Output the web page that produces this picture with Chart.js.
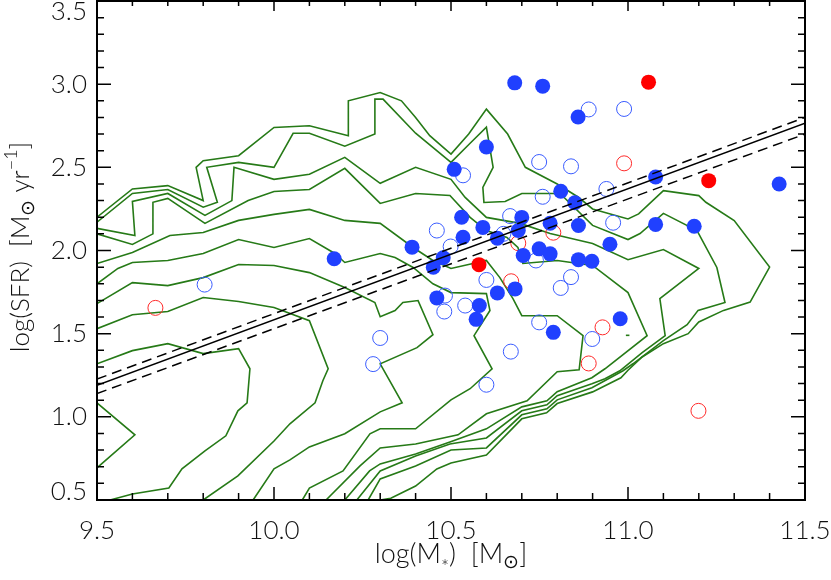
<!DOCTYPE html>
<html lang="en">
<head>
<meta charset="UTF-8">
<title>log(SFR) vs log(M*)</title>
<script src="https://cdn.jsdelivr.net/npm/chart.js@4.4.1/dist/chart.umd.min.js"></script>
<style>
  html, body { margin: 0; padding: 0; background: #fff; }
  #wrap { width: 831px; height: 580px; }
</style>
</head>
<body>
<div id="wrap"><canvas id="sfrChart" width="831" height="580"></canvas></div>

<script>
// axis ticks (major); minor ticks are 5 per interval
const xTicks = [9.5, 10.0, 10.5, 11.0, 11.5];
const yTicks = [0.5, 1.0, 1.5, 2.0, 2.5, 3.0, 3.5];

// galaxies: [log M*, log SFR]
const blueFilled = [
  [10.17, 1.95], [10.39, 2.02], [10.45, 1.90], [10.46, 1.715], [10.478, 1.956],
  [10.509, 2.488], [10.53, 2.20], [10.534, 2.08], [10.59, 2.139], [10.60, 2.622],
  [10.631, 2.074], [10.631, 1.745], [10.681, 1.769], [10.58, 1.669], [10.571, 1.586],
  [10.68, 3.008], [10.759, 2.988], [10.859, 2.803], [10.81, 2.356], [10.85, 2.287],
  [10.70, 2.199], [10.69, 2.12], [10.78, 2.164], [10.86, 2.15], [11.078, 2.157],
  [11.187, 2.146], [11.078, 2.442], [11.427, 2.40], [10.949, 2.038], [10.749, 2.01],
  [10.78, 1.98], [10.704, 1.97], [10.86, 1.945], [10.898, 1.935], [10.789, 1.508],
  [10.978, 1.59]
];
const blueOpen = [
  [9.804, 1.795], [10.30, 1.474], [10.28, 1.317], [10.46, 2.12], [10.499, 2.024],
  [10.534, 2.452], [10.483, 1.729], [10.54, 1.669], [10.481, 1.633], [10.60, 1.823],
  [10.648, 2.10], [10.667, 2.207], [10.749, 2.532], [10.839, 2.506], [10.889, 2.848],
  [10.989, 2.851], [10.939, 2.37], [10.759, 2.323], [10.958, 2.167], [10.839, 1.84],
  [10.81, 1.775], [10.749, 1.568], [10.669, 1.392], [10.60, 1.193], [10.899, 1.468],
  [10.74, 1.94]
];
const redFilled = [[10.579, 1.915], [11.058, 3.012], [11.228, 2.42]];
const redOpen = [
  [9.665, 1.655], [10.989, 2.524], [10.69, 2.044], [10.789, 2.107],
  [10.67, 1.815], [10.928, 1.538], [10.889, 1.321], [11.199, 1.036]
];

// fit and its band
const fitX = [9.5, 11.5];
const fitY = [1.19, 2.765];
const fitUpper = [1.227, 2.80];
const fitLower = [1.14, 2.70];

// density contours of the comparison sample, outermost first
const contour1 = [
  [9.5, 2.20], [9.6, 2.37], [9.7, 2.39], [9.8, 2.30], [9.78, 2.50], [9.8, 2.54], [9.9, 2.57],
  [10.0, 2.74], [10.1, 2.75], [10.21, 2.69], [10.21, 2.90], [10.3, 2.95], [10.36, 2.90],
  [10.4, 2.80], [10.44, 2.69], [10.5, 2.58], [10.55, 2.70], [10.6, 2.85], [10.66, 2.70],
  [10.71, 2.50], [10.8, 2.40], [10.86, 2.32], [10.9, 2.25], [11.0, 2.19], [11.03, 2.22],
  [11.1, 2.36], [11.2, 2.33], [11.22, 2.29], [11.3, 2.18], [11.4, 1.90], [11.345, 1.69],
  [11.27, 1.64], [11.2, 1.57], [11.17, 1.50], [11.1, 1.44], [11.04, 1.36], [11.0, 1.28],
  [10.98, 1.235], [10.9, 1.15], [10.8, 1.08], [10.77, 1.024], [10.7, 0.988], [10.6, 0.77],
  [10.5, 0.723], [10.46, 0.687], [10.4, 0.584], [10.33, 0.51], [10.3, 0.5]
];
const contour2 = [
  [9.5, 2.17], [9.6, 2.343], [9.7, 2.367], [9.8, 2.26], [9.84, 2.29], [9.81, 2.50], [9.9, 2.53],
  [10.0, 2.50], [10.054, 2.705], [10.1, 2.705], [10.2, 2.627], [10.285, 2.70], [10.285, 2.91],
  [10.308, 2.91], [10.4, 2.705], [10.5, 2.53], [10.554, 2.645], [10.6, 2.741], [10.619, 2.50],
  [10.59, 2.38], [10.593, 2.289], [10.653, 2.295], [10.7, 2.343], [10.808, 2.343], [10.9, 2.151],
  [11.0, 2.066], [11.034, 2.102], [11.1, 2.223], [11.195, 2.12], [11.251, 1.898], [11.274, 1.687],
  [11.198, 1.64], [11.167, 1.554], [11.1, 1.458], [11.014, 1.319], [10.986, 1.277], [10.898, 1.175],
  [10.8, 1.102], [10.771, 1.048], [10.7, 1.012], [10.6, 0.813], [10.5, 0.801], [10.4, 0.705],
  [10.3, 0.627], [10.266, 0.5]
];
const contour3 = [
  [9.5, 2.133], [9.607, 2.09], [9.6, 2.295], [9.7, 2.343], [9.805, 2.211], [9.881, 2.30],
  [9.887, 2.50], [10.0, 2.428], [10.1, 2.458], [10.2, 2.56], [10.3, 2.404], [10.4, 2.50],
  [10.5, 2.428], [10.54, 2.319], [10.6, 2.199], [10.695, 2.163], [10.78, 2.102], [10.864, 2.06],
  [10.9, 2.042], [11.0, 1.945], [11.1, 2.006], [11.2, 1.892], [11.09, 1.711], [11.105, 1.488],
  [11.04, 1.386], [10.977, 1.277], [10.935, 1.229], [10.898, 1.199], [10.8, 1.127], [10.771, 1.072],
  [10.7, 1.036], [10.6, 0.873], [10.497, 0.837], [10.4, 0.765], [10.3, 0.675], [10.234, 0.5]
];
const contour4 = [
  [9.5, 2.10], [9.6, 2.036], [9.658, 2.10], [9.658, 2.29], [9.7, 2.313], [9.805, 2.163],
  [9.927, 2.30], [10.0, 2.355], [10.1, 2.367], [10.2, 2.494], [10.3, 2.283], [10.4, 2.343],
  [10.497, 2.331], [10.554, 2.199], [10.6, 2.12], [10.658, 2.078], [10.689, 2.018], [10.703, 1.922],
  [10.8, 1.94], [10.9, 1.91], [11.0, 1.747], [11.054, 1.488], [10.935, 1.289], [10.898, 1.235],
  [10.8, 1.151], [10.771, 1.096], [10.7, 1.06], [10.6, 0.928], [10.497, 0.849], [10.4, 0.777],
  [10.3, 0.717], [10.27, 0.675], [10.2, 0.5]
];
const contour5 = [
  [9.5, 1.922], [9.6, 1.988], [9.706, 2.09], [9.8, 2.108], [9.9, 2.181], [10.0, 2.217],
  [10.1, 2.247], [10.2, 2.181], [10.3, 2.163], [10.393, 2.018], [10.449, 1.94], [10.5, 1.892],
  [10.562, 1.922], [10.6, 1.94], [10.638, 1.837], [10.675, 1.711], [10.7, 1.608], [10.8, 1.608],
  [10.873, 1.488], [10.862, 1.283], [10.8, 1.271], [10.715, 1.096], [10.6, 1.018], [10.52, 0.892],
  [10.4, 0.837], [10.3, 0.813], [10.243, 0.705], [10.147, 0.5]
];
const contour6 = [
  [9.5, 1.80], [9.559, 1.892], [9.6, 1.928], [9.7, 1.94], [9.8, 1.982], [9.9, 2.066], [10.0, 2.018],
  [10.1, 2.072], [10.172, 1.982], [10.2, 1.928], [10.3, 1.982], [10.342, 1.958], [10.393, 1.898],
  [10.449, 1.80], [10.5, 1.747], [10.6, 1.741], [10.61, 1.639], [10.565, 1.488], [10.616, 1.289],
  [10.554, 1.169], [10.5, 1.102], [10.4, 0.928], [10.3, 0.928], [10.271, 0.898], [10.195, 0.675],
  [10.1, 0.572], [10.08, 0.5]
];
const contour7 = [
  [9.5, 1.681], [9.6, 1.807], [9.7, 1.789], [9.8, 1.837], [9.9, 1.916], [10.0, 1.91], [10.1, 1.867],
  [10.2, 1.777], [10.285, 1.687], [10.3, 1.602], [10.342, 1.639], [10.364, 1.687], [10.407, 1.699],
  [10.449, 1.494], [10.404, 1.416], [10.3, 1.319], [10.362, 1.084], [10.3, 1.03], [10.2, 0.898],
  [10.1, 0.819], [10.045, 0.741], [10.0, 0.687], [9.941, 0.5]
];
const contour8 = [
  [9.5, 1.53], [9.6, 1.614], [9.7, 1.633], [9.8, 1.717], [9.9, 1.693], [10.0, 1.657], [10.1, 1.578],
  [10.153, 1.289], [10.138, 1.217], [10.116, 1.084], [10.045, 0.958], [10.0, 0.855], [9.898, 0.645],
  [9.8, 0.5]
];
const contour9 = [
  [9.5, 1.319], [9.6, 1.398], [9.7, 1.44], [9.8, 1.38], [9.9, 1.41], [9.932, 1.289], [9.924, 1.084],
  [9.898, 1.036], [9.864, 0.886], [9.805, 0.795], [9.74, 0.687], [9.703, 0.572], [9.6, 0.536],
  [9.537, 0.5]
];
const contour10 = [[9.5, 1.084], [9.607, 0.892], [9.5, 0.693]];
const contour11 = [[10.994, 1.49], [11.004, 1.49]];
const contours = [contour1, contour2, contour3, contour4, contour5, contour6,
                  contour7, contour8, contour9, contour10, contour11];

const toPts = arr => arr.map(p => ({ x: p[0], y: p[1] }));
const FONT = 'Lato, "DejaVu Sans", sans-serif';
const GREEN = '#267a17';

// draws a centred line of text with sub/superscript pieces
function drawRich(ctx, parts, size) {
  let total = 0;
  parts.forEach(p => {
    ctx.font = '300 ' + Math.round(size * (p.s || 1)) + 'px ' + FONT;
    p.w = ctx.measureText(p.t).width;
    total += p.w;
  });
  let cx = -total / 2;
  parts.forEach(p => {
    ctx.font = '300 ' + Math.round(size * (p.s || 1)) + 'px ' + FONT;
    ctx.fillText(p.t, cx, (p.dy || 0) * size);
    cx += p.w;
  });
}

// frame, inward ticks on all four sides, tick labels and axis titles
const framePlugin = {
  id: 'framePlugin',
  afterDraw(chart) {
    const { ctx, chartArea: a, scales: { x, y } } = chart;
    ctx.save();
    ctx.strokeStyle = '#000';
    ctx.lineWidth = 1.5;
    ctx.beginPath();
    for (let i = 0; i < xTicks.length - 1; i++) {
      for (let k = 0; k < 5; k++) {
        const v = xTicks[i] + (xTicks[i + 1] - xTicks[i]) * k / 5;
        const px = x.getPixelForValue(v);
        const len = k === 0 ? 13 : 7;
        ctx.moveTo(px, a.bottom); ctx.lineTo(px, a.bottom - len);
        ctx.moveTo(px, a.top); ctx.lineTo(px, a.top + (k === 0 ? 10 : 5));
      }
    }
    for (let i = 0; i < yTicks.length - 1; i++) {
      for (let k = 0; k < 5; k++) {
        const v = yTicks[i] + (yTicks[i + 1] - yTicks[i]) * k / 5;
        const py = y.getPixelForValue(v);
        const len = k === 0 ? 14 : 7;
        ctx.moveTo(a.left, py); ctx.lineTo(a.left + len, py);
        ctx.moveTo(a.right, py); ctx.lineTo(a.right - len, py);
      }
    }
    ctx.stroke();
    ctx.lineWidth = 2;
    ctx.strokeRect(a.left, a.top, a.right - a.left, a.bottom - a.top);

    // tick labels
    ctx.fillStyle = '#111';
    ctx.font = '300 26px ' + FONT;
    ctx.textAlign = 'center';
    ctx.textBaseline = 'middle';
    xTicks.forEach(v => ctx.fillText(v.toFixed(1), x.getPixelForValue(v), a.bottom + 31));
    ctx.textAlign = 'right';
    yTicks.forEach(v => {
      let py = y.getPixelForValue(v);
      py = Math.min(Math.max(py, a.top + 11), a.bottom - 8);
      ctx.fillText(v.toFixed(1), a.left - 10, py);
    });

    // axis titles
    ctx.textAlign = 'left';
    ctx.textBaseline = 'alphabetic';
    ctx.save();
    ctx.translate((a.left + a.right) / 2, 563);
    drawRich(ctx, [
      { t: 'log(M' }, { t: '*', s: 0.7, dy: 0.42 }, { t: ')  [M' },
      { t: '\u2299', s: 0.72, dy: 0.2 }, { t: ']' }
    ], 27);
    ctx.restore();
    ctx.save();
    ctx.translate(29, 247);
    ctx.rotate(-Math.PI / 2);
    drawRich(ctx, [
      { t: 'log(SFR)  [M' }, { t: '\u2299', s: 0.72, dy: 0.2 }, { t: ' yr' },
      { t: '\u22121', s: 0.7, dy: -0.45 }, { t: ']' }
    ], 26);
    ctx.restore();
    ctx.restore();
  }
};

const datasets = [];
datasets.push({ data: toPts(blueFilled), backgroundColor: '#2040ff', borderWidth: 0, pointRadius: 7.5, order: 1 });
datasets.push({ data: toPts(redFilled), backgroundColor: '#ff0000', borderWidth: 0, pointRadius: 7.5, order: 1 });
datasets.push({ data: toPts(blueOpen), backgroundColor: 'rgba(0,0,0,0)', borderColor: '#3a5cff', borderWidth: 1, pointRadius: 7.5, order: 2 });
datasets.push({ data: toPts(redOpen), backgroundColor: 'rgba(0,0,0,0)', borderColor: '#ff2a2a', borderWidth: 1, pointRadius: 7.5, order: 2 });
datasets.push({ data: fitX.map((v, i) => ({ x: v, y: fitY[i] })), showLine: true, pointRadius: 0, borderColor: '#000', borderWidth: 1.5, order: 0 });
datasets.push({ data: fitX.map((v, i) => ({ x: v, y: fitUpper[i] })), showLine: true, pointRadius: 0, borderColor: '#000', borderWidth: 1.5, borderDash: [10, 6], order: 0 });
datasets.push({ data: fitX.map((v, i) => ({ x: v, y: fitLower[i] })), showLine: true, pointRadius: 0, borderColor: '#000', borderWidth: 1.5, borderDash: [10, 6], order: 0 });
contours.forEach(c => datasets.push({
  data: toPts(c), showLine: true, pointRadius: 0, borderColor: GREEN, borderWidth: 1.6, tension: 0, order: 5
}));

const ctx = document.getElementById('sfrChart').getContext('2d');
const sfrChart = new Chart(ctx, {
  type: 'scatter',
  data: { datasets: datasets },
  options: {
    responsive: false,
    animation: false,
    events: [],
    layout: { autoPadding: false, padding: { left: 0, right: 26, top: 1, bottom: 0 } },
    plugins: { legend: { display: false }, tooltip: { enabled: false } },
    scales: {
      x: {
        type: 'linear', min: 9.5, max: 11.5,
        grid: { display: false }, border: { display: false },
        ticks: { display: false },
        afterFit: s => { s.height = 80; s.paddingLeft = 0; s.paddingRight = 0; }
      },
      y: {
        type: 'linear', min: 0.5, max: 3.5,
        grid: { display: false }, border: { display: false },
        ticks: { display: false },
        afterFit: s => { s.width = 97; s.paddingTop = 0; s.paddingBottom = 0; }
      }
    }
  },
  plugins: [framePlugin]
});
</script>
</body>
</html>
